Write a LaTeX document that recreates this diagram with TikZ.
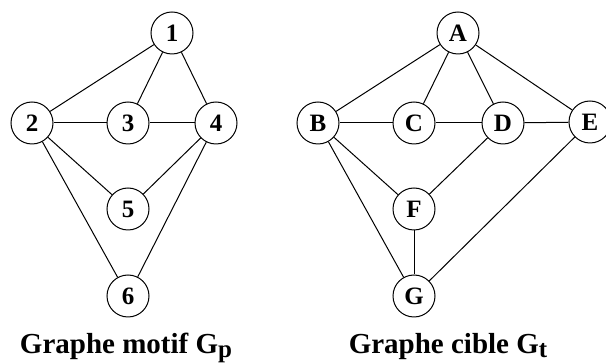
\documentclass[tikz,border=0pt]{standalone}
\usepackage{fontspec}
\setmainfont{Liberation Serif}
\begin{document}
\begin{tikzpicture}[x=1pt,y=1pt,
  vtx/.style={circle,draw,line width=1pt,minimum size=42pt,inner sep=0pt,
    font=\fontsize{25}{25}\selectfont\bfseries},
  edge/.style={line width=1pt},
  captxt/.style={anchor=base,inner sep=0pt,font=\fontsize{29}{29}\selectfont\bfseries}]
\useasboundingbox (0,0) rectangle (606,364);
% left graph
\node[vtx] (n1) at (172,331) {1};
\node[vtx] (n2) at (32,241) {2};
\node[vtx] (n3) at (128,241) {3};
\node[vtx] (n4) at (216,241) {4};
\node[vtx] (n5) at (128,155) {5};
\node[vtx] (n6) at (128,68) {6};
\draw[edge] (n1) -- (n2);
\draw[edge] (n1) -- (n3);
\draw[edge] (n1) -- (n4);
\draw[edge] (n2) -- (n3);
\draw[edge] (n3) -- (n4);
\draw[edge] (n2) -- (n5);
\draw[edge] (n4) -- (n5);
\draw[edge] (n2) -- (n6);
\draw[edge] (n4) -- (n6);
% right graph
\node[vtx] (A) at (458,331) {A};
\node[vtx] (B) at (318,241) {B};
\node[vtx] (C) at (414,241) {C};
\node[vtx] (D) at (503,241) {D};
\node[vtx] (E) at (590,242) {E};
\node[vtx] (F) at (414,155) {F};
\node[vtx] (G) at (414,68) {G};
\draw[edge] (A) -- (B);
\draw[edge] (A) -- (C);
\draw[edge] (A) -- (D);
\draw[edge] (A) -- (E);
\draw[edge] (B) -- (C);
\draw[edge] (C) -- (D);
\draw[edge] (D) -- (E);
\draw[edge] (B) -- (F);
\draw[edge] (D) -- (F);
\draw[edge] (F) -- (G);
\draw[edge] (B) -- (G);
\draw[edge] (E) -- (G);
% captions
\node[captxt] (capL) at (126,10) {Graphe motif G\raisebox{-3.5pt}{\fontsize{25}{25}\selectfont p}};
\node[captxt] (capR) at (448,10) {Graphe cible G\raisebox{-4pt}{\fontsize{25}{25}\selectfont t}};
\end{tikzpicture}
\end{document}
